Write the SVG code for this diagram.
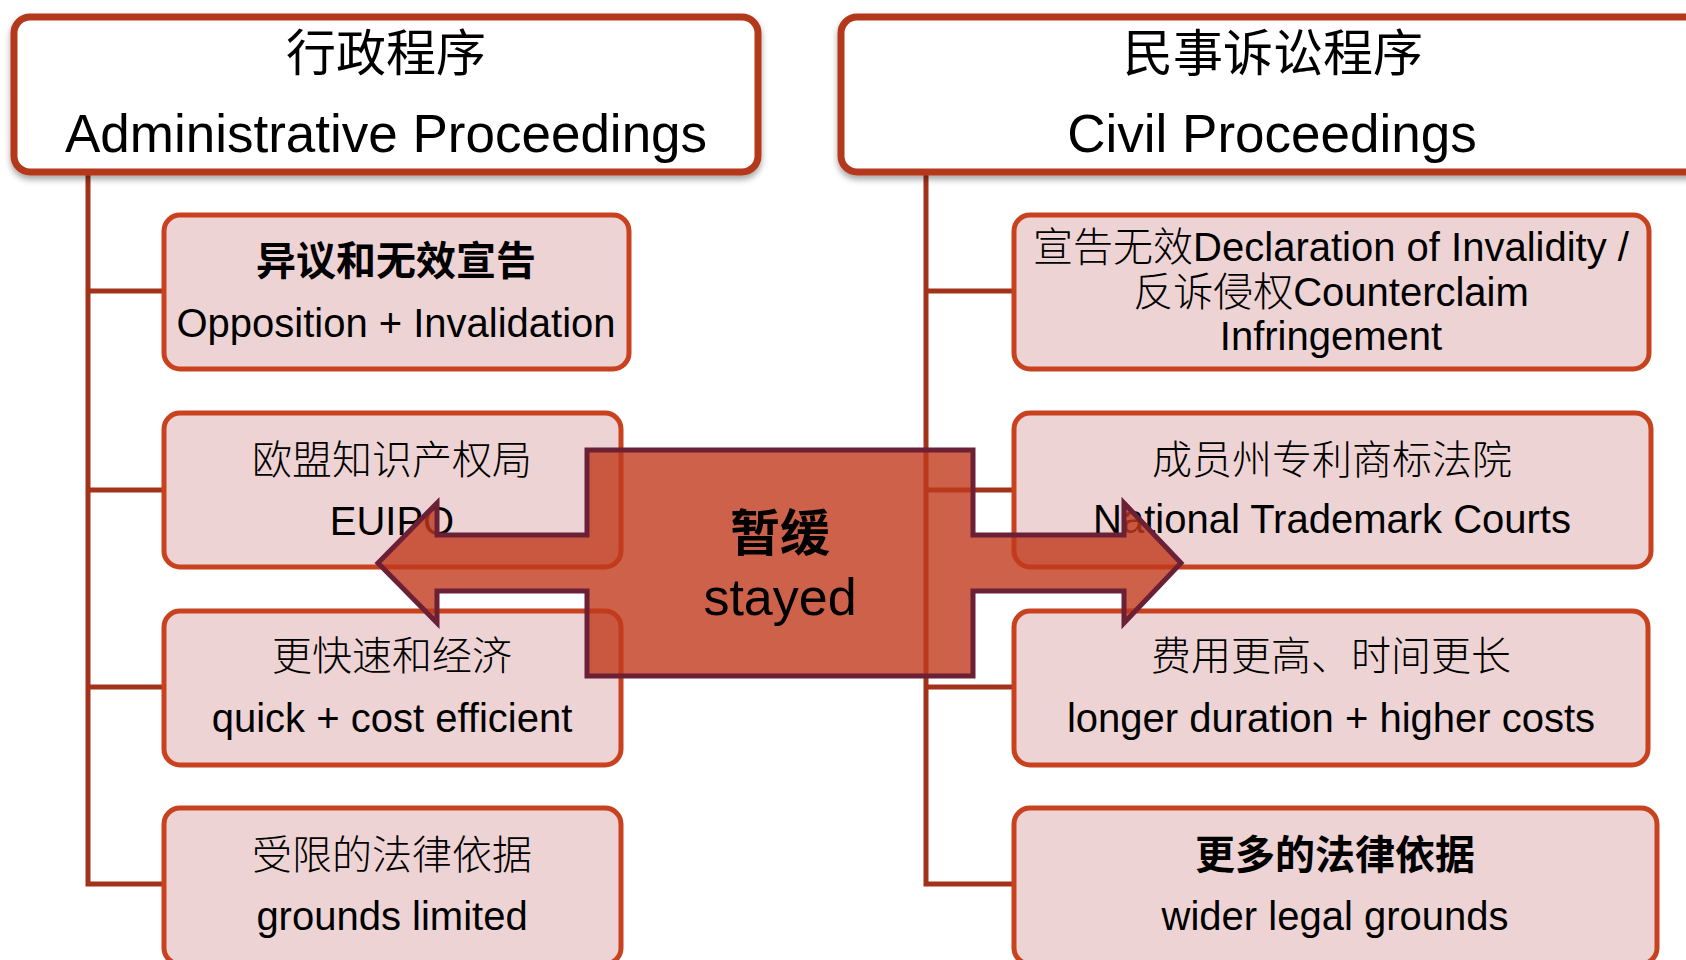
<svg xmlns="http://www.w3.org/2000/svg" width="1686" height="960" viewBox="0 0 1686 960">
<defs>
<style>
.hdr{fill:#ffffff;stroke:#B3391B;stroke-width:7}
.box{fill:#EDD3D3;stroke:#C9421F;stroke-width:5}
.conn{fill:none;stroke:#A2321A;stroke-width:5}
text{fill:#000;text-anchor:middle}
.en{font-family:"Liberation Sans",Arial,sans-serif}
.cjk{font-family:"Noto Sans CJK SC","Noto Sans CJK TC",sans-serif}
.h{font-size:53px}
.hc{font-size:50px}
.b{font-size:40px}
.thin{font-weight:300}
.bold{font-weight:700}
.arrow{fill:#C0391B;fill-opacity:0.8;stroke:#6B2035;stroke-width:5;stroke-linejoin:miter}
</style>
<filter id="sh" x="-5%" y="-10%" width="110%" height="130%">
<feDropShadow dx="0" dy="4" stdDeviation="3" flood-color="#000" flood-opacity="0.35"/>
</filter>
</defs>

<g id="connectors">
<path class="conn" d="M88,175 V884 H164 M88,291 H164 M88,490 H164 M88,687 H164"/>
<path class="conn" d="M926,175 V884 H1014 M926,291 H1014 M926,490 H1014 M926,687 H1014"/>
</g>

<g id="admin-header">
<rect class="hdr" x="14" y="17" width="744" height="155" rx="16" filter="url(#sh)"/>
<text class="cjk hc" x="386" y="71">行政程序</text>
<text class="en h" x="386" y="152">Administrative Proceedings</text>
</g>

<g id="civil-header">
<rect class="hdr" x="841" y="17" width="870" height="155" rx="16" filter="url(#sh)"/>
<text class="cjk hc" x="1273" y="71">民事诉讼程序</text>
<text class="en h" x="1272" y="152">Civil Proceedings</text>
</g>

<g id="opposition">
<rect class="box" x="164" y="215" width="465" height="154" rx="16"/>
<text class="cjk b bold" x="396" y="275">异议和无效宣告</text>
<text class="en b" x="396" y="337">Opposition + Invalidation</text>
</g>

<g id="euipo">
<rect class="box" x="164" y="413" width="457" height="154" rx="16"/>
<text class="cjk b thin" x="392" y="474">欧盟知识产权局</text>
<text class="en b" x="392" y="535">EUIPO</text>
</g>

<g id="quick">
<rect class="box" x="164" y="611" width="457" height="154" rx="16"/>
<text class="cjk b thin" x="392" y="670">更快速和经济</text>
<text class="en b" x="392" y="732">quick + cost efficient</text>
</g>

<g id="limited">
<rect class="box" x="164" y="808" width="457" height="156" rx="16"/>
<text class="cjk b thin" x="392" y="869">受限的法律依据</text>
<text class="en b" x="392" y="930">grounds limited</text>
</g>

<g id="declaration">
<rect class="box" x="1014" y="215" width="635" height="154" rx="16"/>
<text class="b" x="1331" y="261"><tspan class="cjk thin">宣告无效</tspan><tspan class="en">Declaration of Invalidity /</tspan></text>
<text class="b" x="1331" y="306"><tspan class="cjk thin">反诉侵权</tspan><tspan class="en">Counterclaim</tspan></text>
<text class="en b" x="1331" y="350">Infringement</text>
</g>

<g id="courts">
<rect class="box" x="1014" y="413" width="637" height="154" rx="16"/>
<text class="cjk b thin" x="1332" y="474">成员州专利商标法院</text>
<text class="en b" x="1332" y="533">National Trademark Courts</text>
</g>

<g id="costs">
<rect class="box" x="1014" y="611" width="634" height="154" rx="16"/>
<text class="cjk b thin" x="1331" y="670">费用更高、时间更长</text>
<text class="en b" x="1331" y="732">longer duration + higher costs</text>
</g>

<g id="wider">
<rect class="box" x="1014" y="808" width="643" height="156" rx="16"/>
<text class="cjk b bold" x="1335" y="869">更多的法律依据</text>
<text class="en b" x="1335" y="930">wider legal grounds</text>
</g>

<g id="stayed">
<polygon class="arrow" points="378,563 437,503 437,535 587,535 587,450 973,450 973,535 1124,535 1124,503 1181,563 1124,623 1124,591 973,591 973,676 587,676 587,591 437,591 437,623"/>
<text class="cjk bold" style="font-size:50px" x="780" y="551">暂缓</text>
<text class="en" style="font-size:52px" x="780" y="615">stayed</text>
</g>
</svg>
